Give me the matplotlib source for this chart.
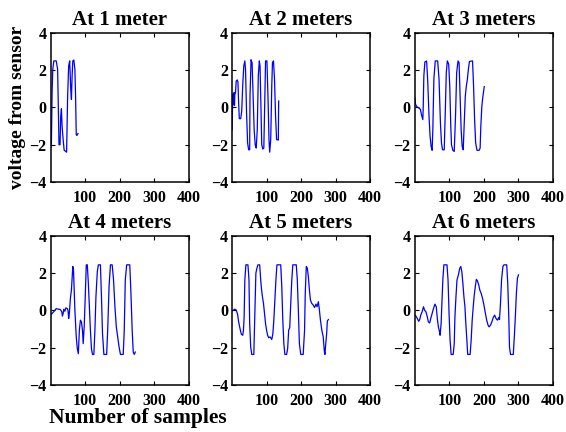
import matplotlib
matplotlib.use("Agg")
import matplotlib.pyplot as plt

# samples / voltage
x1 = [0, 2, 4, 6, 9, 16, 20, 22, 24, 27, 29, 31, 33, 36, 39, 44, 46, 49, 52, 55, 58, 60, 62, 64, 67, 70, 72, 74, 76, 79]
y1 = [-2.18, -1.9, 0.8, 2.05, 2.5, 2.5, 2.05, 0.07, -2.0, -2.0, -0.47, -0.07, -1.0, -1.73, -2.3, -2.36, -2.4, 0.6, 2.23, 2.5,
      0.97, 0.43, 1.7, 2.5, 2.55, 2.05, 0.6, -1.46, -1.5, -1.4]

x2 = [0, 1, 2, 3, 4, 5, 6, 7, 8, 10, 12, 15, 17, 19, 21, 25, 28, 31, 34, 37, 39, 42, 45, 48, 51, 52, 55, 58, 61, 64, 67,
      70, 73, 76, 79, 81, 84, 86, 89, 92, 95, 97, 101, 104, 107, 109, 112, 115, 117, 120, 123, 126, 129, 132, 134, 135]
y2 = [-1.2, -0.3, 0.7, 0.2, 0.75, 0.15, 0.8, 0.1, 0.7, 0.8, 1.42, 1.48, 1.37, 0.25, -0.6, -0.6, -0.2, 1.24, 2.23, 2.5, 2.05,
      -0.29, -1.9, -2.27, -2.27, 0.6, 2.56, 2.4, 0.6, -1.2, -2.0, -2.18, -1.2, 1.7, 2.5, 2.23, -0.29, -2.0, -2.23, -2.18,
      0.6, 2.5, 2.5, 0.6, -1.73, -2.4, -1.73, 1.15, 2.4, 2.5, 1.5, -0.47, -1.73, -1.73, -1.75, 0.35]

x3 = [0, 2, 6, 12, 16, 19, 23, 24, 26, 29, 34, 37, 41, 44, 47, 50, 52, 55, 59, 66, 70, 74, 77, 80, 85, 88, 91, 94, 98, 101,
      104, 106, 110, 114, 118, 121, 125, 128, 131, 134, 137, 140, 143, 146, 149, 152, 155, 158, 167, 170, 173, 176, 180,
      186, 189, 191, 194, 197, 201]
y3 = [0.52, 0.16, 0.04, -0.04, -0.1, -0.38, -0.65, -0.1, 1.7, 2.45, 2.49, 1.5, -0.47, -1.55, -2.09, -2.3, -1.19, 1.51, 2.5,
      2.5, 1.51, -0.83, -1.9, -2.27, -2.27, -0.29, 1.87, 2.5, 2.32, 1.15, -1.0, -2.0, -2.3, -2.36, -0.29, 1.87, 2.5, 2.4,
      0.6, -1.2, -2.09, -2.27, -0.83, 0.6, 1.15, 1.5, 2.05, 2.47, 2.5, 1.15, -0.65, -1.9, -2.3, -2.3, -2.18, -1.0, 0.07,
      0.6, 1.12]

x4 = [0, 4, 10, 16, 22, 28, 32, 34, 36, 38, 41, 44, 48, 50, 52, 54, 57, 60, 64, 66, 70, 74, 77, 80, 83, 86, 89, 92, 94, 97,
      100, 103, 106, 109, 112, 115, 118, 121, 125, 128, 131, 135, 138, 144, 147, 150, 154, 162, 165, 169, 173, 178, 182,
      186, 190, 194, 198, 202, 210, 213, 216, 220, 229, 232, 236, 239, 242, 245]
y4 = [-0.25, -0.16, -0.04, 0.1, 0.07, 0.05, -0.07, -0.3, -0.16, 0.07, -0.04, 0.14, 0.1, 0.02, -0.43, -0.16, 0.65, 1.1, 2.36,
      2.18, 0.02, -1.42, -2.05, -2.32, -1.06, -0.52, -0.61, -1.06, -1.78, -0.88, 0.74, 2.45, 2.45, 1.46, 0.2, -1.06, -2.05,
      -2.36, -2.36, -1.06, 0.74, 2.09, 2.45, 2.45, 0.74, -1.24, -2.36, -2.36, -1.06, 1.28, 2.45, 2.45, 1.64, 0.2, -0.88,
      -1.42, -1.96, -2.36, -2.36, -1.06, 1.64, 2.45, 2.45, 1.1, -1.06, -2.23, -2.36, -2.23]

x5 = [0, 4, 8, 12, 16, 19, 23, 27, 31, 33, 35, 37, 40, 46, 49, 51, 54, 57, 63, 66, 69, 72, 75, 80, 83, 85, 88, 91, 94, 97,
      100, 103, 106, 110, 113, 115, 118, 121, 124, 127, 130, 141, 144, 147, 150, 153, 158, 161, 164, 167, 170, 173, 176,
      186, 189, 192, 195, 199, 206, 210, 212, 215, 218, 221, 224, 227, 231, 235, 239, 243, 246, 250, 253, 256, 260, 264,
      267, 269, 271, 274, 276, 279]
y5 = [-0.02, 0.02, 0.07, 0.02, -0.2, -0.61, -0.97, -1.28, -1.33, -1.06, -0.34, 1.64, 2.45, 2.45, 1.64, -0.7, -1.96, -2.36,
      -2.36, -0.16, 2.0, 2.27, 2.45, 2.45, 1.64, 1.19, 0.74, 0.38, -0.16, -0.7, -1.06, -1.33, -1.46, -1.42, -1.5, -1.55,
      -1.28, -0.52, 0.56, 1.64, 2.45, 2.45, 1.28, -0.52, -1.78, -2.36, -2.36, -2.05, -1.06, -0.92, 0.38, 1.64, 2.45, 2.45,
      1.64, 0.02, -1.78, -2.36, -2.36, -1.06, 0.92, 2.36, 2.27, 1.82, 1.1, 0.56, 0.38, 0.29, 0.16, 0.34, 0.2, 0.47, 0.02,
      -0.52, -1.06, -1.42, -2.14, -2.36, -1.87, -1.24, -0.56, -0.49]

x6 = [0, 3, 7, 11, 14, 17, 21, 25, 28, 32, 36, 39, 43, 46, 50, 54, 58, 62, 65, 68, 71, 73, 76, 79, 81, 84, 93, 96, 99, 102,
      105, 111, 114, 116, 119, 122, 126, 130, 133, 136, 139, 142, 145, 147, 150, 153, 160, 163, 166, 169, 172, 175, 178,
      181, 185, 188, 192, 196, 200, 204, 208, 212, 215, 219, 223, 227, 231, 235, 239, 243, 245, 248, 251, 255, 258, 266,
      269, 272, 274, 277, 285, 288, 291, 294, 297, 300]
y6 = [-0.25, -0.3, -0.43, -0.58, -0.49, -0.25, -0.07, 0.2, 0.02, -0.07, -0.34, -0.61, -0.67, -0.43, -0.16, 0.11, 0.34, 0.2,
      -0.43, -0.88, -1.1, -1.33, -0.7, 0.74, 1.64, 2.45, 2.45, 1.64, -0.16, -1.6, -2.36, -2.36, -1.78, -0.34, 0.74, 1.64,
      1.91, 2.27, 2.36, 2.09, 1.46, 0.74, 0.2, -0.52, -1.42, -2.36, -2.36, -1.6, -0.52, 0.2, 0.83, 1.28, 1.67, 1.6, 1.37,
      1.1, 0.92, 0.65, 0.29, -0.13, -0.52, -0.79, -0.88, -0.79, -0.61, -0.38, -0.25, -0.43, -0.52, -0.38, -0.49, 0.38,
      1.64, 2.36, 2.45, 2.45, 1.46, -0.34, -1.96, -2.36, -2.36, -1.42, -0.34, 0.92, 1.73, 1.91]

titles = ["At 1 meter", "At 2 meters", "At 3 meters", "At 4 meters", "At 5 meters", "At 6 meters"]
series = [(x1, y1), (x2, y2), (x3, y3), (x4, y4), (x5, y5), (x6, y6)]

plt.rcParams['font.family'] = ['Liberation Serif', 'DejaVu Serif']
plt.rcParams['font.weight'] = 'bold'

fig = plt.figure(figsize=(5.66, 4.32), dpi=100)

lefts = [0.0896, 0.41, 0.733]
bottoms = [0.5787, 0.1088]
w, h = 0.244, 0.345

for i, (t, (xs, ys)) in enumerate(zip(titles, series)):
    ax = fig.add_axes([lefts[i % 3], bottoms[i // 3], w, h])
    ax.plot(xs, ys, color="#0000ff", linewidth=0.9)
    ax.set_xlim(0, 400)
    ax.set_ylim(-4, 4)
    ax.set_xticks([100, 200, 300, 400])
    ax.set_yticks([-4, -2, 0, 2, 4])
    ax.tick_params(direction="in", length=3, width=0.8, top=True, right=True,
                   labelsize=11.5)
    ax.tick_params(axis="x", pad=6)
    ax.tick_params(axis="y", pad=3)
    for lab in ax.get_xticklabels() + ax.get_yticklabels():
        lab.set_fontweight("bold")
    for sp in ax.spines.values():
        sp.set_linewidth(1.1)
    ax.set_title(t, fontsize=15, fontweight="bold", pad=6)

fig.text(0.031, 0.752, "voltage from sensor", rotation=90, ha="center", va="center",
         fontsize=14, fontweight="bold")
fig.text(0.244, 0.032, "Number of samples", ha="center", va="center",
         fontsize=15.5, fontweight="bold")

fig.savefig("out.png", dpi=100)
